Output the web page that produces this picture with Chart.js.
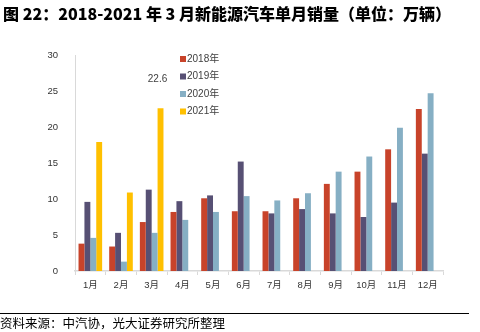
<!DOCTYPE html>
<html><head><meta charset="utf-8">
<script src="https://cdn.jsdelivr.net/npm/chart.js@4/dist/chart.umd.min.js"></script>
<style>
html,body{margin:0;padding:0;background:#fff;width:480px;height:332px;overflow:hidden;}
#wrap{position:absolute;left:0;top:0;width:480px;height:332px;}
#title{position:absolute;left:3px;top:3px;font-family:"Noto Sans CJK SC","Liberation Sans",sans-serif;font-weight:900;font-size:16px;color:#000;white-space:nowrap;line-height:20px;}
#rule{position:absolute;left:0;top:313px;width:469px;height:0;border-top:1.5px solid #000;}
#src{position:absolute;left:0;top:314px;font-family:"Noto Sans CJK SC",sans-serif;font-size:12.5px;color:#000;white-space:nowrap;line-height:17px;}
</style></head>
<body>
<div id="wrap"><canvas id="c" width="480" height="332"></canvas></div>
<div id="title">图 22：2018-2021 年 3 月新能源汽车单月销量（单位：万辆）</div>
<div id="rule"></div>
<div id="src">资料来源：中汽协，光大证券研究所整理</div>
<script>
const categories = ["1月","2月","3月","4月","5月","6月","7月","8月","9月","10月","11月","12月"];
const seriesNames = ["2018年","2019年","2020年","2021年"];
const s2018 = [3.8, 3.4, 6.8, 8.2, 10.1, 8.3, 8.3, 10.1, 12.1, 13.8, 16.9, 22.5];
const s2019 = [9.6, 5.3, 11.3, 9.7, 10.5, 15.2, 8.0, 8.6, 8.0, 7.5, 9.5, 16.3];
const s2020 = [4.6, 1.3, 5.3, 7.1, 8.2, 10.4, 9.8, 10.8, 13.8, 15.9, 19.9, 24.7];
const s2021 = [17.9, 10.9, 22.6, null, null, null, null, null, null, null, null, null];
const yTicks = [0, 5, 10, 15, 20, 25, 30];
const colors = ["#C8432A", "#575074", "#86AFC4", "#FFC000"];
const FONT = "'Liberation Sans','Noto Sans CJK SC',sans-serif";

const legendPlugin = {
  id: 'vlegend',
  afterDraw(chart) {
    const ctx = chart.ctx;
    const x0 = 180, y0 = 59, gap = 17.5;
    ctx.save();
    ctx.font = "10px " + FONT;
    ctx.textBaseline = 'middle';
    chart.data.datasets.forEach((ds, i) => {
      const y = y0 + i * gap;
      ctx.fillStyle = ds.backgroundColor;
      ctx.fillRect(x0, y - 3, 6, 6);
      ctx.fillStyle = '#404040';
      ctx.fillText(ds.label, x0 + 7, y);
    });
    ctx.restore();
  }
};
const labelPlugin = {
  id: 'peakLabel',
  afterDatasetsDraw(chart) {
    const di = 3, idx = 2;
    const meta = chart.getDatasetMeta(di);
    const bar = meta.data[idx];
    const v = chart.data.datasets[di].data[idx];
    const ctx = chart.ctx;
    ctx.save();
    ctx.font = "10px " + FONT;
    ctx.fillStyle = '#404040';
    ctx.textAlign = 'center';
    ctx.textBaseline = 'bottom';
    ctx.fillText(v.toFixed(1), bar.x - 3, bar.y - 24);
    ctx.restore();
  }
};

new Chart(document.getElementById('c'), {
  type: 'bar',
  data: {
    labels: categories,
    datasets: [s2018, s2019, s2020, s2021].map((d, i) => ({
      label: seriesNames[i], data: d, backgroundColor: colors[i],
      borderWidth: 0, barPercentage: 1.0, categoryPercentage: 0.77
    }))
  },
  options: {
    responsive: false, animation: false,
    layout: { padding: { left: 0, right: 37, top: 55, bottom: 36 } },
    plugins: { legend: { display: false }, tooltip: { enabled: false } },
    scales: {
      x: {
        grid: { display: true, drawOnChartArea: false, drawTicks: true, tickLength: 4, color: '#D9D9D9', offset: true },
        border: { display: true, color: '#D9D9D9', width: 1.5 },
        ticks: { font: { size: 9.5, family: FONT }, color: '#333', padding: 5, maxRotation: 0 },
        afterFit(s) { s.height = 25; }
      },
      y: {
        min: 0, max: 30,
        afterBuildTicks(s) { s.ticks = yTicks.map(v => ({ value: v })); },
        grid: { display: false },
        border: { display: true, color: '#D9D9D9', width: 1 },
        ticks: { font: { size: 9.5, family: FONT }, color: '#333', padding: 9 },
        afterFit(s) { s.width = 75; }
      }
    }
  },
  plugins: [legendPlugin, labelPlugin]
});
</script>
</body></html>
